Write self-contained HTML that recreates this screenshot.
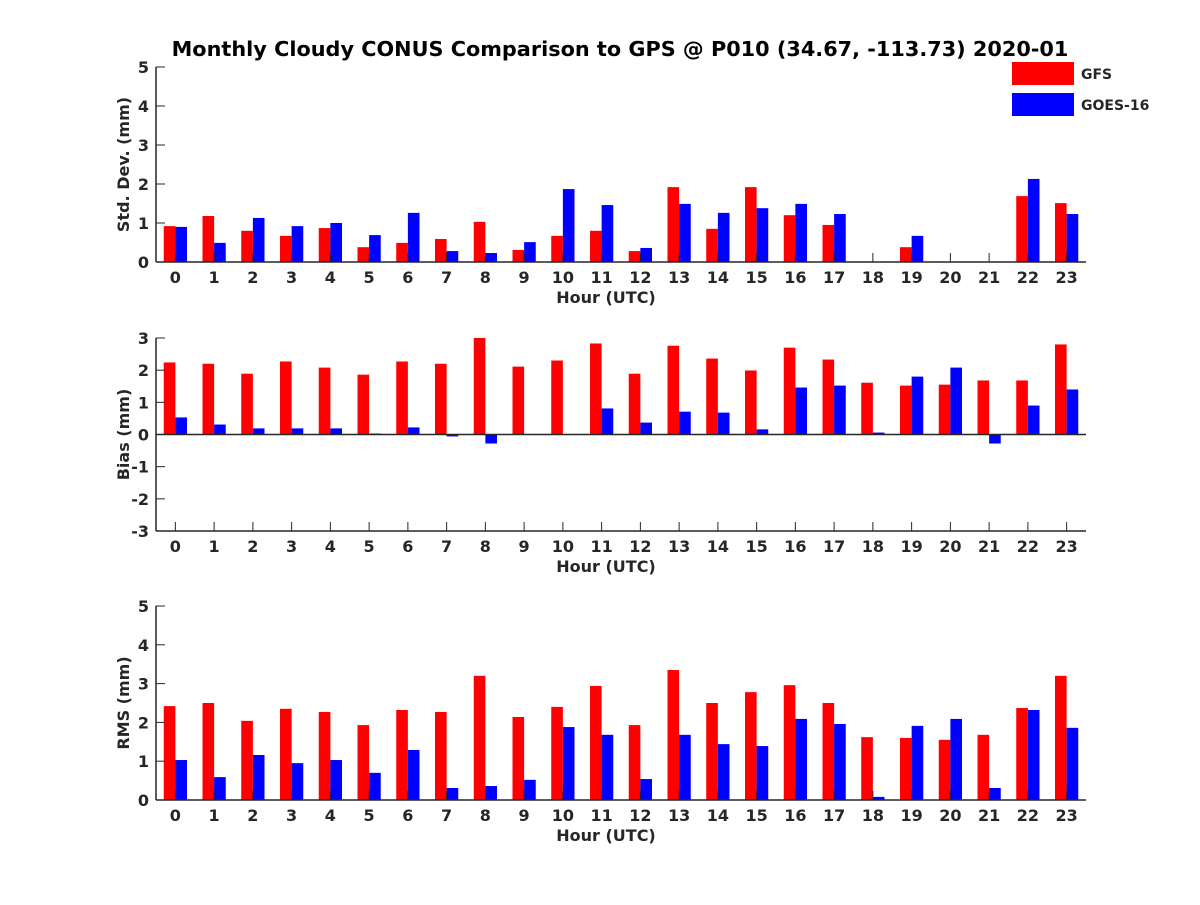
<!DOCTYPE html>
<html><head><meta charset="utf-8"><style>
body{margin:0;background:#fff}
svg text{font-family:"DejaVu Sans","Liberation Sans",sans-serif;font-weight:bold;fill:#262626}
</style></head><body>
<svg id="chart" width="1200" height="900" xmlns="http://www.w3.org/2000/svg">
<text x="620" y="56" font-size="20.8" text-anchor="middle" style="fill:#000">Monthly Cloudy CONUS Comparison to GPS @ P010 (34.67, -113.73) 2020-01</text>
<rect x="1012" y="62" width="62" height="23" fill="#ff0000"/>
<text x="1081" y="79" font-size="14">GFS</text>
<rect x="1012" y="93" width="62" height="23" fill="#0000ff"/>
<text x="1081" y="110" font-size="14">GOES-16</text>
</svg>
<script>
const hours=[0,1,2,3,4,5,6,7,8,9,10,11,12,13,14,15,16,17,18,19,20,21,22,23];
const stdGfs=[0.92,1.18,0.8,0.67,0.87,0.38,0.49,0.59,1.03,0.31,0.67,0.8,0.28,1.92,0.85,1.92,1.2,0.95,0,0.38,0,0,1.69,1.51];
const stdGoes=[0.9,0.49,1.13,0.92,1.0,0.69,1.26,0.28,0.23,0.51,1.87,1.46,0.36,1.49,1.26,1.38,1.49,1.23,0,0.67,0,0,2.13,1.23];
const biasGfs=[2.24,2.2,1.89,2.27,2.08,1.86,2.27,2.2,3.0,2.11,2.3,2.83,1.89,2.76,2.36,1.99,2.7,2.33,1.61,1.52,1.55,1.68,1.68,2.8];
const biasGoes=[0.53,0.31,0.19,0.19,0.19,0.03,0.22,-0.06,-0.28,0,0,0.81,0.37,0.71,0.68,0.16,1.46,1.52,0.06,1.8,2.08,-0.28,0.9,1.4];
const rmsGfs=[2.42,2.5,2.04,2.35,2.27,1.93,2.32,2.27,3.2,2.14,2.4,2.94,1.93,3.35,2.5,2.78,2.96,2.5,1.62,1.6,1.55,1.68,2.37,3.2];
const rmsGoes=[1.03,0.59,1.16,0.95,1.03,0.7,1.29,0.31,0.36,0.52,1.88,1.68,0.54,1.68,1.44,1.39,2.09,1.96,0.08,1.91,2.09,0.31,2.32,1.86];
const stdTicks=[0,1,2,3,4,5],biasTicks=[-3,-2,-1,0,1,2,3],rmsTicks=[0,1,2,3,4,5];
const svg=document.getElementById('chart');const NS='http://www.w3.org/2000/svg';
function mk(t,a,p){const e=document.createElementNS(NS,t);for(const k in a)e.setAttribute(k,a[k]);(p||svg).appendChild(e);return e;}
const X0=156,X1=1086;
function xs(h){return X0+(h+0.5)*(X1-X0)/24;}
function panel(name,top,bot,ymin,ymax,ticks,ylab,g1,g2){
  const g=mk('g',{});
  
  
  const ys=v=>bot-(v-ymin)*(bot-top)/(ymax-ymin);
  const y0=ys(Math.max(0,ymin));
  const bw=(X1-X0)/24*0.3;
  hours.forEach((h,i)=>{
    [[g1[i],'#ff0000',-1,'gfs'],[g2[i],'#0000ff',0,'goes']].forEach(([v,c,o,s])=>{
      const yv=ys(v);
      const r=mk('rect',{x:xs(h)+o*bw,y:Math.min(yv,y0),width:bw,height:Math.abs(y0-yv),fill:c},g);
      
      
    });
    mk('line',{x1:xs(h),x2:xs(h),y1:bot,y2:bot-9,stroke:'#262626','stroke-width':1},g);
    const t=mk('text',{x:xs(h),y:bot+21,'font-size':16,'text-anchor':'middle'},g);t.textContent=h;
    
    
  });
  ticks.forEach(v=>{
    mk('line',{x1:X0,x2:X0+9,y1:ys(v),y2:ys(v),stroke:'#262626'},g);
    const t=mk('text',{x:X0-7,y:ys(v)+6,'font-size':16,'text-anchor':'end'},g);t.textContent=v;
    
    
  });
  mk('line',{x1:X0,x2:X1,y1:y0,y2:y0,stroke:'#262626','stroke-width':1.5},g);
  if(ymin<0)mk('line',{x1:X0,x2:X1,y1:bot,y2:bot,stroke:'#262626','stroke-width':1.5},g);
  mk('line',{x1:X0,x2:X0,y1:top,y2:bot,stroke:'#262626','stroke-width':1.5},g);
  const xl=mk('text',{x:(X0+X1)/2-15,y:bot+41,'font-size':16,'text-anchor':'middle'},g);xl.textContent='Hour (UTC)';
  
  
  const cy=(top+bot)/2;
  const yl=mk('text',{x:0,y:0,'font-size':16,'text-anchor':'middle',transform:`translate(129,${cy}) rotate(-90)`},g);yl.textContent=ylab;
  
  
}
panel('std',67,262,0,5,stdTicks,'Std. Dev. (mm)',stdGfs,stdGoes);
panel('bias',338,531,-3,3,biasTicks,'Bias (mm)',biasGfs,biasGoes);
panel('rms',606,800,0,5,rmsTicks,'RMS (mm)',rmsGfs,rmsGoes);
</script>
</body></html>
